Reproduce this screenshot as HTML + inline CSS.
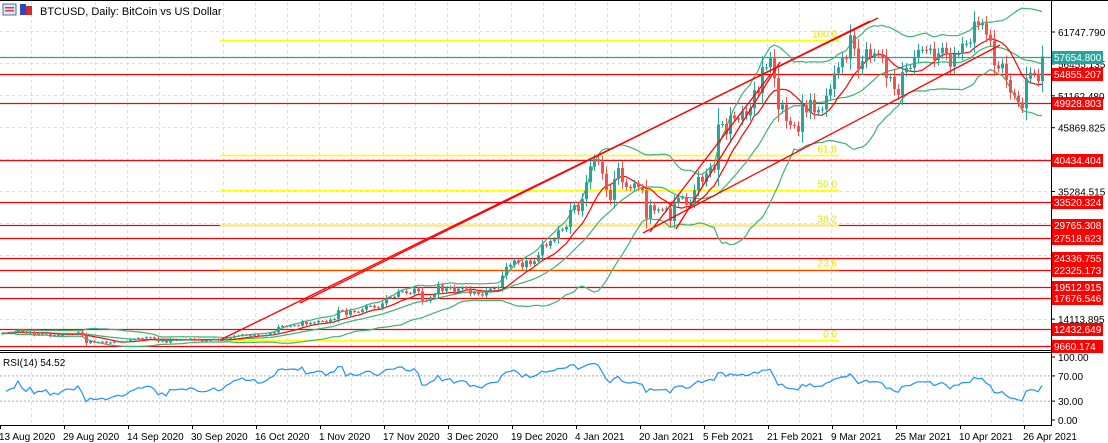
<!DOCTYPE html>
<html><head><meta charset="utf-8"><style>
html,body{margin:0;padding:0;background:#fff;}
svg{display:block;font-family:"Liberation Sans",sans-serif;}
</style></head><body>
<svg id="chart" width="1108" height="443" viewBox="0 0 1108 443" xmlns="http://www.w3.org/2000/svg">
<rect x="0" y="0" width="1108" height="443" fill="#fff"/>
<g id="grid"></g>
<g id="hlines"></g>
<g id="fib"></g>
<g id="bands"></g>
<g id="candles"></g>
<g id="trend"></g>
<g id="rsi"></g>
<g id="axis"></g>
<g id="dates"></g>
<line x1="0" y1="0.5" x2="1108" y2="0.5" stroke="#000"/>
<line x1="1051.5" y1="0" x2="1051.5" y2="425" stroke="#000"/>
<line x1="0" y1="350.5" x2="1052" y2="350.5" stroke="#000"/>
<line x1="0" y1="352.5" x2="1052" y2="352.5" stroke="#000"/>
<line x1="0" y1="425.5" x2="1052" y2="425.5" stroke="#000"/>
<g>
<rect x="3" y="4" width="13" height="11" fill="#dfe6f4" stroke="#5a6a9a"/>
<rect x="5" y="7" width="9" height="1.5" fill="#d04040"/><rect x="5" y="10" width="9" height="1.5" fill="#d04040"/>
<rect x="20" y="4" width="6" height="11" fill="#2a48c8"/><rect x="26" y="6" width="6" height="9" fill="#c83030"/>
</g>
<text x="40" y="15" font-size="11" fill="#000">BTCUSD, Daily:  BitCoin vs US Dollar</text>
<text x="3" y="366" font-size="10" fill="#000">RSI(14) 54.52</text>
</svg>
<script>
const closes=[11780,11770,11870,11910,12300,11950,11750,12000,11520,11680,11660,11780,11330,11470,11330,11550,11700,11690,11650,
11920,11400,10160,10460,10250,10280,10360,10110,10240,10350,10440,10330,10440,10680,10790,10960,10940,11090,11080,10920,10420,10540,10250,10740,10700,10730,10780,10700,10850,10780,
10600,10560,10580,10670,10790,10600,10670,10930,11060,11300,11380,11550,11430,11430,11510,11330,11370,11500,11750,11920,12800,12970,12930,13030,13080,13030,13650,13280,13460,13560,13800,
13760,13550,14030,14150,15590,15580,14830,15480,15330,15300,15700,16300,16330,16080,15960,16720,17660,17800,17820,18680,18720,18420,18370,19160,18730,17150,17140,17730,18180,19700,
18800,19220,19440,18650,19150,19360,19180,18330,18550,18250,18040,18800,19170,19280,19440,21350,22800,23130,23860,23480,22730,23830,23250,23730,24710,26490,26280,27080,27360,28860,28990,
29400,32200,33000,32030,34030,36820,39470,40670,40240,38240,35550,33900,37340,39190,36820,36040,35830,36630,36000,35500,30830,33000,32100,32290,32260,32470,30400,33420,34270,34300,33100,
33500,35500,37700,36900,38300,39300,38900,46400,46500,44800,47900,47400,47200,48600,47900,49100,52100,51600,55900,55900,57400,54100,48900,49700,47000,46300,46200,45200,
49600,48400,50500,48400,48800,48900,51200,52300,54900,55900,57400,57300,61200,59000,55600,56900,58900,57600,58200,58100,57400,54100,54300,52300,51300,55100,55800,55800,57600,58800,58800,
58700,59000,57100,58200,59100,58000,56000,58100,58100,59800,59800,60000,63500,62900,63200,61300,60300,56200,55700,56500,53800,51700,51200,50100,49100,54000,55000,54800,53600,57700];
const firstOpen=11650;
const levels=[54855.207,49928.803,40434.404,33520.324,29765.308,27518.623,24336.755,22325.173,19512.915,17676.546,12432.649,9660.174];
const currentPrice=57654.800;
const axisTicks=[61747.790,56455.135,51162.480,45869.825,35284.515,14113.895];
const fibLevels=[100.0,61.8,50.0,38.2,23.6,0.0];
const fibLow=10650, fibHigh=60420;
const rsiTicks=[100,70,30,0];
const dateLabels=["13 Aug 2020","29 Aug 2020","14 Sep 2020","30 Sep 2020","16 Oct 2020","1 Nov 2020","17 Nov 2020","3 Dec 2020","19 Dec 2020","4 Jan 2021","20 Jan 2021","5 Feb 2021","21 Feb 2021","9 Mar 2021","25 Mar 2021","10 Apr 2021","26 Apr 2021"];

const NS="http://www.w3.org/2000/svg";
function yP(v){return 32+(61747.79-v)/165.9;}
function xD(i){return 4*i+2;}
function yR(v){return 420-v*0.63;}
function mk(tag,parent,attrs){const e=document.createElementNS(NS,tag);for(const k in attrs)e.setAttribute(k,attrs[k]);document.getElementById(parent).appendChild(e);return e;}

for(let x=31.5;x<1051;x+=32){const l=mk('line','grid',{x1:x,y1:2,x2:x,y2:350,stroke:'#ddd','stroke-dasharray':'3,3'});


const l2=mk('line','grid',{x1:x,y1:354,x2:x,y2:425,stroke:'#ddd','stroke-dasharray':'3,3'});

}
for(let y=31.5;y<350;y+=32){const l=mk('line','grid',{x1:0,y1:y,x2:1051,y2:y,stroke:'#ddd','stroke-dasharray':'3,3'});

}

levels.forEach(v=>{const y=Math.round(yP(v))+0.5;const l=mk('line','hlines',{x1:0,y1:y,x2:1051,y2:y,stroke:'#ff0000','stroke-width':1.3});

});
{const y=Math.round(yP(currentPrice))+0.5;const l=mk('line','hlines',{x1:0,y1:y,x2:1051,y2:y,stroke:'#26a69a','stroke-width':1.3});

}

fibLevels.forEach(p=>{const v=fibLow+(fibHigh-fibLow)*p/100;const y=Math.round(yP(v))+0.5;
const l=mk('line','fib',{x1:220,y1:y,x2:839,y2:y,stroke:'#ffff00','stroke-width':1.5});


const t=mk('text','fib',{x:837,y:y-3,'font-size':10,fill:'#e6e600','text-anchor':'end'});t.textContent=p.toFixed(1);

});

const N=closes.length;
function sma(n,i){let s=0,c=0;for(let k=Math.max(0,i-n+1);k<=i;k++){s+=closes[k];c++;}return s/c;}
let up=[],lo=[],mid=[],ma=[];
for(let i=0;i<N;i++){const m=sma(20,i);let s=0,c=0;for(let k=Math.max(0,i-19);k<=i;k++){s+=(closes[k]-m)**2;c++;}const sd=Math.sqrt(s/c);
mid.push([xD(i),yP(m)]);up.push([xD(i),yP(m+2*sd)]);lo.push([xD(i),yP(m-2*sd)]);ma.push([xD(i),yP(sma(10,i))]);}
function pl(pts,parent,col,name){const p=mk('polyline',parent,{points:pts.map(p=>p[0]+','+p[1].toFixed(1)).join(' '),fill:'none',stroke:col,'stroke-width':1.2});

}
pl(up,'bands','#3cb371','bollinger-upper');pl(mid,'bands','#3cb371','bollinger-middle');pl(lo,'bands','#3cb371','bollinger-lower');
pl(ma,'bands','#ff0000','moving-average');

for(let i=0;i<N;i++){const o=i?closes[i-1]:firstOpen,c=closes[i];const rng=Math.abs(c-o)*0.3+c*0.01;
const h=Math.max(o,c)+rng,l=Math.min(o,c)-rng;const col=c>=o?'#26a69a':'#ef5350';const x=xD(i);
const w=mk('line','candles',{x1:x+0.5,y1:yP(h),x2:x+0.5,y2:yP(l),stroke:col});


const yt=yP(Math.max(o,c)),yb=yP(Math.min(o,c));
const b=mk('rect','candles',{x:x-1,y:yt,width:3,height:Math.max(1,yb-yt),fill:col});

}

[[220,340,878,18],[300,303,870,21],[643,233,1000,45],[676,229,780,62],[650,232,770,75]].forEach(a=>{
const l=mk('line','trend',{x1:a[0],y1:a[1],x2:a[2],y2:a[3],stroke:'#ff0000','stroke-width':1.3});

});

[70,30].forEach(v=>{const l=mk('line','rsi',{x1:0,y1:yR(v),x2:1051,y2:yR(v),stroke:'#aaa','stroke-dasharray':'2,2'});

});
let ag=0,al=0,rpts=[];
for(let i=1;i<N;i++){const d=closes[i]-closes[i-1];const g=Math.max(d,0),ls=Math.max(-d,0);
if(i===1){ag=g+closes[0]*0.004;al=ls+closes[0]*0.004;}else{ag=(ag*13+g)/14;al=(al*13+ls)/14;}
const r=al===0?100:100-100/(1+ag/al);rpts.push([xD(i),yR(r)]);}
pl(rpts,'rsi','#1e90ff','rsi-line');

axisTicks.forEach(v=>{const y=yP(v);const t=mk('text','axis',{x:1058,y:y+4,'font-size':10,fill:'#000'});t.textContent=v.toFixed(3);


const k=mk('line','axis',{x1:1051,y1:y,x2:1055,y2:y,stroke:'#000'});

});
function tag(v,col,name){const y=Math.round(yP(v));const r=mk('rect','axis',{x:1052,y:y-6,width:51,height:13,fill:col});


const t=mk('text','axis',{x:1054,y:y+4,'font-size':10,fill:'#fff'});t.textContent=v.toFixed(3);

}
levels.forEach(v=>tag(v,'#ff0000','level-price-tag'));
tag(currentPrice,'#26a69a','current-price-tag');
rsiTicks.forEach(v=>{const y=yR(v);const t=mk('text','axis',{x:1058,y:y+4,'font-size':10,fill:'#000'});t.textContent=v.toFixed(2);


const k=mk('line','axis',{x1:1051,y1:y,x2:1055,y2:y,stroke:'#000'});

});

dateLabels.forEach((s,i)=>{const x=64*i;const t=mk('text','dates',{x:x-1,y:440,'font-size':10,fill:'#000'});t.textContent=s;


const k=mk('line','dates',{x1:x+0.5,y1:425,x2:x+0.5,y2:429,stroke:'#000'});

});
</script>
</body></html>
